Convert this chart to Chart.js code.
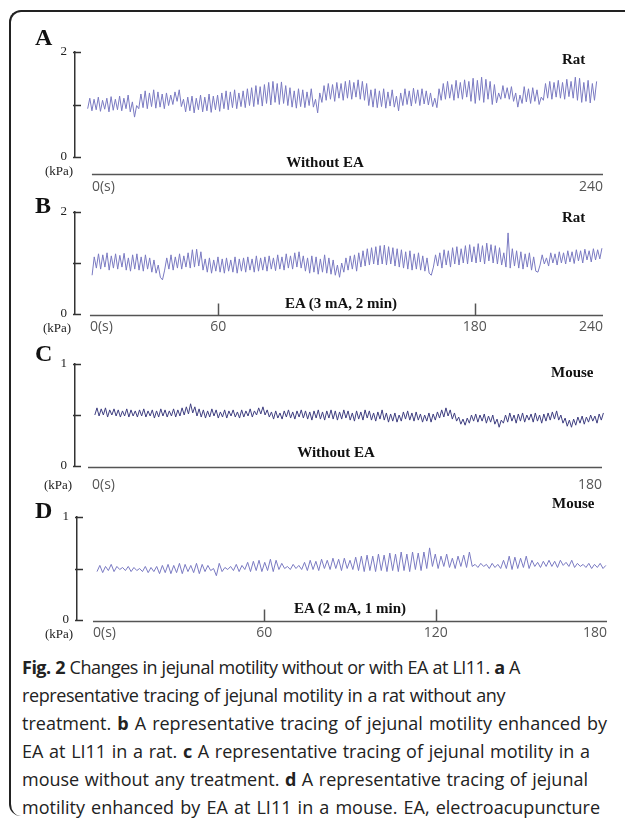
<!DOCTYPE html>
<html>
<head>
<meta charset="utf-8">
<script src="https://cdn.jsdelivr.net/npm/chart.js@4.4.1/dist/chart.umd.min.js"></script>
<style>
  body { margin: 0; width: 625px; height: 818px; background: #fff; overflow: hidden; position: relative; }
  .frame { position: absolute; left: 9px; top: 10px; width: 700px; height: 806px; border-top: 2px solid #222; border-left: 2px solid #222; border-radius: 12px 0 0 12px; box-sizing: border-box; }
  canvas { position: absolute; left: 0; }
  .lbl { position: absolute; font-family: 'Liberation Serif', serif; font-weight: bold; color: #111; white-space: nowrap; line-height: 1; transform: translateY(-50%); }
  .mid { transform: translate(-50%, -50%); }
  .letter { font-size: 24px; }
  .tag { font-size: 15px; }
  .unit { font-size: 13px; font-weight: normal; color: #222; }
  .caption { position: absolute; left: 22px; top: 653px; font-family: 'Open Sans', sans-serif; font-size: 18px; line-height: 28px; color: #222; }
  .caption div { text-align: justify; text-align-last: justify; height: 28px; overflow: visible; }
</style>
</head>
<body>
<div class="frame"></div>

<canvas id="panelA" width="625" height="165" style="top:30px"></canvas>
<canvas id="panelB" width="625" height="145" style="top:195px"></canvas>
<canvas id="panelC" width="625" height="150" style="top:345px"></canvas>
<canvas id="panelD" width="625" height="150" style="top:495px"></canvas>

<div class="lbl letter" style="left:35px;top:37px">A</div>
<div class="lbl letter" style="left:35px;top:205px">B</div>
<div class="lbl letter" style="left:35px;top:353px">C</div>
<div class="lbl letter" style="left:35px;top:510px">D</div>

<div class="lbl tag" style="left:562px;top:59px">Rat</div>
<div class="lbl tag" style="left:562px;top:217px">Rat</div>
<div class="lbl tag" style="left:551px;top:372px">Mouse</div>
<div class="lbl tag" style="left:552px;top:503px">Mouse</div>

<div class="lbl tag mid" style="left:325px;top:162px">Without EA</div>
<div class="lbl tag mid" style="left:341px;top:303px">EA (3 mA, 2 min)</div>
<div class="lbl tag mid" style="left:336px;top:452px">Without EA</div>
<div class="lbl tag mid" style="left:350px;top:608px">EA (2 mA, 1 min)</div>

<div class="lbl unit" style="left:45px;top:170px">(kPa)</div>
<div class="lbl unit" style="left:43px;top:327px">(kPa)</div>
<div class="lbl unit" style="left:44px;top:484px">(kPa)</div>
<div class="lbl unit" style="left:45px;top:633px">(kPa)</div>

<div class="caption">
<div style="width:498px;letter-spacing:-0.5px"><b>Fig. 2</b> Changes in jejunal motility without or with EA at LI11. <b>a</b> A</div>
<div style="width:483px;letter-spacing:-0.4px">representative tracing of jejunal motility in a rat without any</div>
<div style="width:585px">treatment. <b>b</b> A representative tracing of jejunal motility enhanced by</div>
<div style="width:568px">EA at LI11 in a rat. <b>c</b> A representative tracing of jejunal motility in a</div>
<div style="width:566px">mouse without any treatment. <b>d</b> A representative tracing of jejunal</div>
<div style="width:578px">motility enhanced by EA at LI11 in a mouse. EA, electroacupuncture</div>
</div>

<script>
// rat, no EA (kPa), evenly sampled from ratAStart to ratAEnd seconds
const ratAStart = -2, ratAEnd = 237;
const ratA = [
  0.92,1.12,0.88,1.10,0.90,1.14,0.87,1.08,0.91,1.12,0.86,1.15,0.89,1.10,0.90,1.16,0.88,1.12,0.92,1.18,
  0.86,1.05,0.76,0.98,0.92,1.20,0.94,1.26,0.92,1.22,0.96,1.28,0.93,1.24,0.95,1.20,0.92,1.22,0.98,1.18,
  1.00,1.24,1.06,1.28,0.96,1.10,0.86,1.14,0.88,1.16,0.84,1.12,0.90,1.18,0.86,1.14,0.88,1.20,0.85,1.16,
  0.90,1.18,0.87,1.22,0.92,1.26,0.90,1.24,0.94,1.28,0.92,1.22,0.96,1.26,0.94,1.30,0.98,1.32,0.96,1.36,
  1.00,1.34,0.97,1.38,1.02,1.42,0.99,1.44,1.04,1.40,1.00,1.43,1.02,1.36,0.98,1.32,0.95,1.26,0.93,1.30,
  0.96,1.28,0.94,1.24,0.98,1.30,0.95,1.10,0.84,1.22,1.04,1.36,1.08,1.40,1.10,1.38,1.06,1.42,1.12,1.40,
  1.08,1.44,1.12,1.46,1.10,1.42,1.14,1.47,1.10,1.44,1.08,1.40,0.98,1.28,0.95,1.30,0.94,1.26,0.96,1.30,
  0.93,1.24,0.97,1.28,0.95,1.16,0.88,1.22,0.98,1.30,1.00,1.26,0.97,1.31,1.02,1.28,0.98,1.30,1.01,1.26,
  0.99,1.22,0.96,1.12,0.94,1.30,1.08,1.40,1.10,1.44,1.12,1.38,1.08,1.46,1.12,1.42,1.10,1.47,1.14,1.44,
  1.06,1.50,1.02,1.46,1.08,1.52,1.04,1.48,1.10,1.44,1.00,1.38,1.03,1.22,1.10,1.36,1.12,1.32,1.10,1.34,
  1.06,1.22,0.95,1.18,1.02,1.34,1.05,1.30,1.02,1.32,1.06,1.28,1.00,1.14,1.08,1.40,1.12,1.44,1.10,1.42,
  1.14,1.46,1.12,1.42,1.10,1.48,1.15,1.44,1.12,1.52,1.08,1.50,1.04,1.42,1.06,1.46,1.03,1.40,1.08,1.44
];

// rat, EA 3 mA 2 min
const ratBStart = 1, ratBEnd = 239.5;
const ratB = [
  0.76,1.12,0.90,1.18,0.88,1.16,0.92,1.20,0.86,1.14,0.90,1.18,0.88,1.15,0.92,1.19,0.86,1.10,0.84,1.16,
  0.88,1.18,0.86,1.12,0.84,1.16,0.88,1.10,0.82,1.06,0.80,0.96,0.72,0.67,0.86,1.10,0.88,1.16,0.86,1.12,
  0.90,1.18,0.88,1.14,0.92,1.20,0.90,1.26,0.92,1.27,0.94,1.22,0.86,1.08,0.82,1.10,0.80,1.06,0.84,1.12,
  0.82,1.08,0.80,1.10,0.84,1.06,0.82,1.12,0.80,1.08,0.84,1.10,0.82,1.12,0.86,1.08,0.82,1.14,0.84,1.10,
  0.86,1.12,0.84,1.14,0.88,1.10,0.85,1.16,0.88,1.12,0.86,1.18,0.90,1.14,0.88,1.20,0.92,1.22,0.90,1.14,
  0.84,1.10,0.80,1.14,0.82,1.12,0.78,1.08,0.82,1.16,0.80,1.10,0.78,1.06,0.76,0.96,0.72,1.00,0.82,1.10,
  0.86,1.14,0.88,1.16,0.84,1.20,0.92,1.24,0.94,1.28,0.96,1.30,0.98,1.32,0.96,1.34,0.98,1.35,0.96,1.32,
  0.98,1.30,0.94,1.28,0.92,1.26,0.90,1.22,0.88,1.24,0.86,1.18,0.88,1.20,0.86,1.14,0.84,1.10,0.80,0.76,
  0.92,1.16,0.94,1.20,0.90,1.26,0.96,1.24,0.92,1.30,0.98,1.32,0.96,1.28,1.00,1.34,0.98,1.36,1.02,1.32,
  1.00,1.38,1.02,1.34,0.98,1.39,1.04,1.36,1.00,1.34,0.98,1.30,0.96,1.20,0.92,1.59,0.90,1.28,0.94,1.24,
  0.90,1.22,0.88,1.18,0.92,1.20,0.86,1.12,0.84,0.82,0.96,1.16,0.98,1.10,0.94,1.20,1.00,1.18,0.96,1.22,
  1.00,1.20,0.98,1.24,1.02,1.22,0.99,1.26,1.04,1.24,1.00,1.27,1.06,1.24,1.02,1.28,1.06,1.26,1.08,1.29
];

// mouse, no EA
const mouseCStart = 1, mouseCEnd = 180.5;
const mouseC = [
  0.50,0.57,0.49,0.56,0.50,0.57,0.48,0.55,0.50,0.56,0.49,0.55,0.48,0.54,0.49,0.56,0.48,0.55,0.49,0.54,
  0.48,0.55,0.49,0.56,0.48,0.54,0.49,0.55,0.47,0.54,0.48,0.56,0.49,0.55,0.48,0.54,0.49,0.56,0.48,0.55,
  0.49,0.57,0.50,0.58,0.51,0.61,0.52,0.58,0.49,0.56,0.48,0.55,0.47,0.54,0.48,0.56,0.49,0.55,0.47,0.53,
  0.48,0.55,0.47,0.54,0.49,0.55,0.48,0.53,0.47,0.55,0.48,0.54,0.49,0.56,0.48,0.54,0.50,0.57,0.51,0.58,
  0.50,0.55,0.48,0.53,0.46,0.54,0.47,0.52,0.46,0.54,0.48,0.55,0.47,0.53,0.46,0.54,0.48,0.55,0.47,0.54,
  0.46,0.53,0.45,0.54,0.47,0.55,0.46,0.53,0.45,0.54,0.47,0.55,0.46,0.54,0.45,0.53,0.46,0.55,0.47,0.54,
  0.45,0.52,0.44,0.54,0.46,0.53,0.45,0.55,0.47,0.54,0.45,0.52,0.44,0.53,0.46,0.55,0.45,0.52,0.43,0.51,
  0.44,0.52,0.43,0.50,0.44,0.53,0.46,0.54,0.45,0.52,0.44,0.53,0.45,0.51,0.43,0.50,0.44,0.52,0.43,0.51,
  0.45,0.53,0.47,0.55,0.48,0.57,0.49,0.55,0.46,0.52,0.44,0.48,0.41,0.46,0.40,0.47,0.42,0.50,0.44,0.51,
  0.43,0.50,0.44,0.51,0.42,0.49,0.43,0.50,0.41,0.46,0.38,0.45,0.42,0.50,0.43,0.52,0.44,0.50,0.42,0.51,
  0.44,0.52,0.43,0.50,0.45,0.51,0.43,0.52,0.44,0.50,0.42,0.51,0.44,0.52,0.45,0.53,0.46,0.54,0.45,0.50,
  0.42,0.47,0.39,0.45,0.38,0.46,0.40,0.48,0.42,0.49,0.41,0.48,0.43,0.50,0.44,0.49,0.42,0.51,0.45,0.52
];

// mouse, EA 2 mA 1 min
const mouseDStart = 1.4, mouseDEnd = 179.6;
const mouseD = [
  0.47,0.53,0.46,0.52,0.48,0.54,0.47,0.52,0.49,0.51,0.48,0.52,0.47,0.51,0.48,0.50,0.47,0.52,0.46,0.51,
  0.47,0.52,0.45,0.53,0.46,0.54,0.45,0.53,0.46,0.55,0.45,0.54,0.47,0.53,0.46,0.55,0.45,0.54,0.47,0.53,
  0.48,0.50,0.43,0.55,0.47,0.51,0.49,0.52,0.48,0.54,0.47,0.53,0.49,0.56,0.47,0.57,0.48,0.58,0.47,0.56,
  0.48,0.59,0.47,0.58,0.49,0.55,0.50,0.52,0.49,0.54,0.50,0.53,0.49,0.56,0.48,0.58,0.49,0.57,0.48,0.59,
  0.50,0.58,0.49,0.60,0.50,0.59,0.48,0.60,0.50,0.58,0.49,0.61,0.48,0.62,0.47,0.63,0.48,0.62,0.47,0.64,
  0.48,0.63,0.47,0.65,0.48,0.64,0.47,0.66,0.48,0.64,0.47,0.66,0.49,0.65,0.48,0.66,0.50,0.70,0.52,0.64,
  0.50,0.62,0.52,0.64,0.51,0.60,0.50,0.62,0.52,0.63,0.51,0.66,0.52,0.54,0.51,0.55,0.52,0.54,0.50,0.55,
  0.51,0.54,0.50,0.58,0.50,0.62,0.49,0.61,0.50,0.60,0.51,0.62,0.50,0.58,0.52,0.56,0.51,0.57,0.52,0.58,
  0.52,0.57,0.51,0.58,0.53,0.56,0.52,0.58,0.51,0.55,0.52,0.54,0.51,0.55,0.50,0.54,0.51,0.55,0.50,0.53
];

const ratTicks = [0, 240];
const ratEaTicks = [0, 60, 180, 240];
const mouseTicks = [0, 180];
const mouseEaTicks = [0, 60, 120, 180];
const ratEaMarks = [60, 180];
const mouseEaMarks = [60, 120];

function toPoints(vals, t0, t1) {
  const dt = (t1 - t0) / (vals.length - 1);
  return vals.map((v, i) => ({ x: t0 + i * dt, y: v }));
}

// y ticks pointing inward, detached time axis line, stimulus marks
const axisDeco = {
  id: 'axisDeco',
  afterDraw(chart, args, opts) {
    const { ctx, chartArea, scales: { x, y } } = chart;
    ctx.save();
    ctx.strokeStyle = '#333';
    ctx.lineWidth = 1.5;
    y.ticks.forEach(t => {
      const py = Math.round(y.getPixelForValue(t.value)) + 0.5;
      ctx.beginPath();
      ctx.moveTo(chartArea.left - 2, py);
      ctx.lineTo(chartArea.left + 6, py);
      ctx.stroke();
    });
    const ay = Math.round(chartArea.bottom + opts.gap) + 0.5;
    ctx.strokeStyle = '#555';
    ctx.beginPath();
    ctx.moveTo(x.getPixelForValue(0) - opts.lead, ay);
    ctx.lineTo(x.getPixelForValue(x.max), ay);
    ctx.stroke();
    opts.marks.forEach(m => {
      const px = Math.round(x.getPixelForValue(m)) + 0.5;
      ctx.beginPath();
      ctx.moveTo(px, ay);
      ctx.lineTo(px, ay - 12);
      ctx.stroke();
    });
    ctx.restore();
  }
};

function makePanel(id, p) {
  return new Chart(document.getElementById(id), {
    type: 'line',
    data: {
      datasets: [{
        data: p.points,
        borderColor: p.color,
        borderWidth: 1,
        pointRadius: 0,
        tension: 0,
        fill: false,
        clip: 10
      }]
    },
    options: {
      responsive: false,
      animation: false,
      devicePixelRatio: 1,
      layout: { padding: { top: p.padTop, right: p.padRight, left: 0, bottom: 0 } },
      plugins: {
        legend: { display: false },
        tooltip: { enabled: false },
        axisDeco: { gap: p.gap, lead: p.lead, marks: p.marks }
      },
      scales: {
        x: {
          type: 'linear',
          min: p.xMin,
          max: p.xMax,
          afterFit: s => { s.height = p.xHeight; },
          afterBuildTicks: s => { s.ticks = p.xTicks.map(v => ({ value: v })); },
          grid: { display: false, drawTicks: false },
          border: { display: false },
          ticks: {
            align: 'inner',
            autoSkip: false,
            maxRotation: 0,
            padding: p.labelPad,
            color: '#555',
            font: { family: 'Open Sans', size: 14 },
            callback: v => v === 0 ? '0(s)' : String(v)
          }
        },
        y: {
          min: 0,
          max: p.yMax,
          afterFit: s => { s.width = p.yWidth; },
          afterBuildTicks: s => { s.ticks = [0, p.yMax / 2, p.yMax].map(v => ({ value: v })); },
          grid: { display: false, drawTicks: false },
          border: { display: true, color: '#333', width: 1.5 },
          ticks: {
            padding: 8,
            color: '#222',
            font: { family: 'Liberation Serif', size: 13 },
            callback: v => (v === 0 || v === p.yMax) ? String(v) : ''
          }
        }
      }
    },
    plugins: [axisDeco]
  });
}

makePanel('panelA', {
  points: toPoints(ratA, ratAStart, ratAEnd), color: '#7a7ac2',
  padTop: 22, padRight: 20, xHeight: 38, yWidth: 75, yMax: 2,
  xMin: -7.95, xMax: 240, xTicks: ratTicks, labelPad: 22, gap: 17, lead: 0, marks: []
});
makePanel('panelB', {
  points: toPoints(ratB, ratBStart, ratBEnd), color: '#7a7ac2',
  padTop: 17, padRight: 22, xHeight: 26, yWidth: 75, yMax: 2,
  xMin: -7.0, xMax: 240, xTicks: ratEaTicks, labelPad: 5, gap: 1, lead: 0, marks: ratEaMarks
});
makePanel('panelC', {
  points: toPoints(mouseC, mouseCStart, mouseCEnd), color: '#3e3e80',
  padTop: 19, padRight: 23, xHeight: 29, yWidth: 75, yMax: 1,
  xMin: -6.0, xMax: 180, xTicks: mouseTicks, labelPad: 11, gap: 1, lead: 4, marks: []
});
makePanel('panelD', {
  points: toPoints(mouseD, mouseDStart, mouseDEnd), color: '#7a7ac2',
  padTop: 22, padRight: 18, xHeight: 25, yWidth: 77, yMax: 1,
  xMin: -5.6, xMax: 180, xTicks: mouseEaTicks, labelPad: 5, gap: 1, lead: 0, marks: mouseEaMarks
});
</script>
</body>
</html>
